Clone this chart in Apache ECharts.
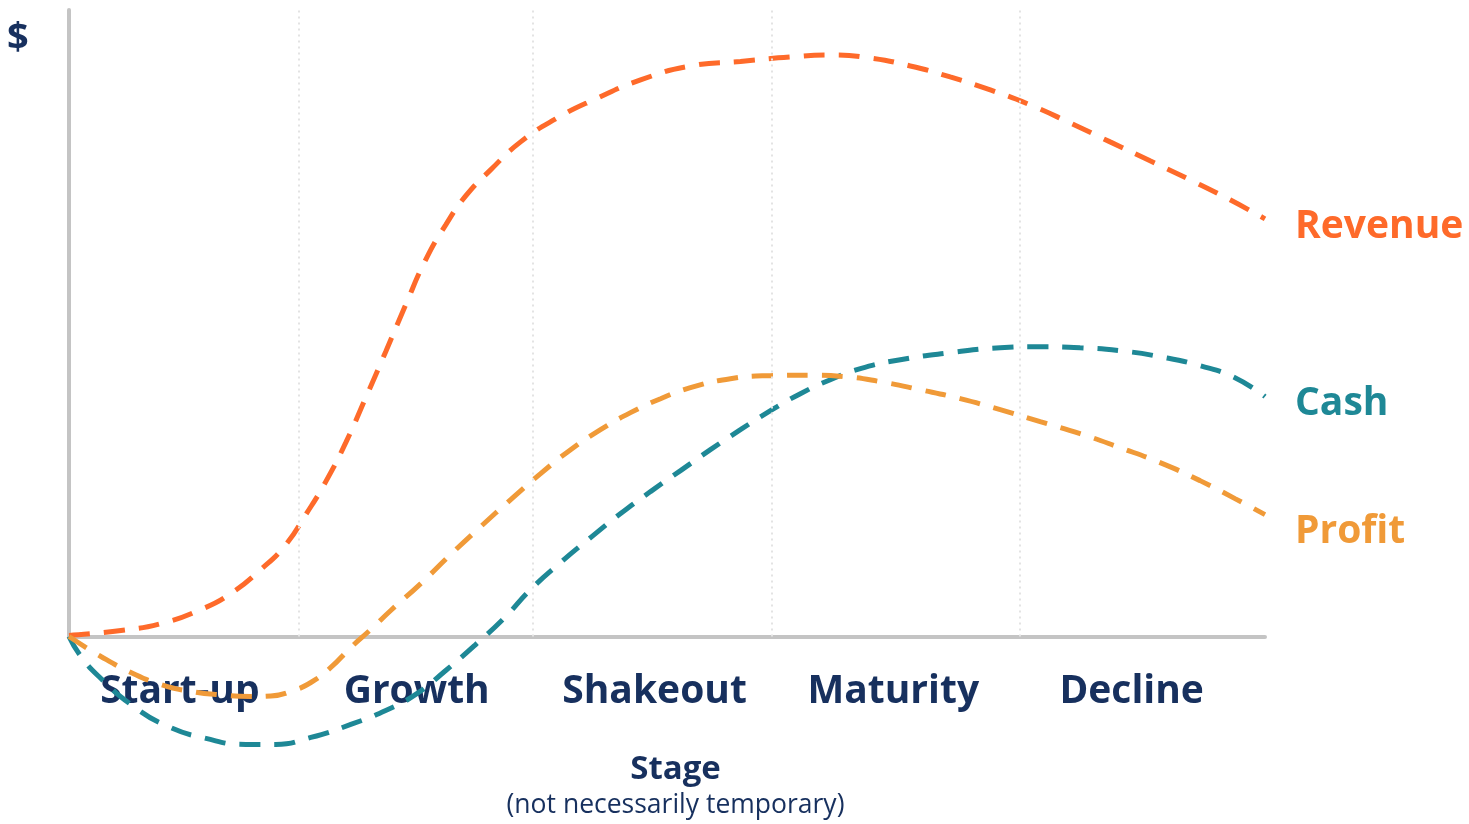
<!DOCTYPE html>
<html>
  <head>
  <meta charset="utf-8">
    <script type="text/javascript" src="https://cdn.jsdelivr.net/npm/echarts@6/dist/echarts.min.js"></script>
  </head>
 <body style="margin:0;background:#fff">
     <div id="main" style="width:1469px;height:824px;"></div>
     <script type="text/javascript">
    // stage names and where they sit along the horizontal axis (0-100)
    var stageNames = ['Start-up', 'Growth', 'Shakeout', 'Maturity', 'Decline'];
    var stageCenters = [9.27, 29.07, 48.96, 68.92, 88.85];
    var stageBounds = [19.21, 38.76, 58.73, 79.53];

    // curves: [x, y]
    var revenue = [[0,0.16],[4.34,0.96],[7.69,2.07],[11.03,4.31],[13.53,6.86],[16.04,10.69],[18.13,14.67],
        [19.8,19.46],[21.47,24.72],[23.14,30.94],[24.81,38.12],[26.48,45.45],[28.15,52.95],[29.82,60.13],
        [31.5,65.71],[33.17,70.33],[35.25,74.48],[37.76,78.95],[40.69,82.62],[44.03,85.81],[47.79,88.84],
        [51.96,91.07],[56.14,91.79],[60.32,92.5],[63.66,92.82],[67.0,92.34],[70.34,91.07],[73.68,89.31],
        [77.03,87.24],[80.37,84.85],[83.71,81.98],[87.05,78.95],[90.39,75.92],[93.73,72.89],[97.08,69.7],
        [100,66.67]];
    var cash = [[0,0],[1.0,-3.19],[2.67,-6.7],[5.18,-10.85],[8.1,-14.2],[11.45,-16.27],[14.79,-17.22],
        [17.29,-17.22],[20.22,-16.11],[23.56,-14.04],[26.48,-11.8],[28.99,-9.25],[31.5,-5.42],[34.0,-1.28],
        [36.51,3.19],[38.6,7.5],[41.1,11.8],[43.61,15.79],[46.12,19.62],[48.62,23.13],[51.13,26.48],
        [53.63,29.82],[56.14,33.01],[58.65,36.04],[61.15,38.76],[63.66,40.99],[66.17,42.76],[69.51,44.18],
        [73.68,45.3],[77.86,46.09],[81.2,46.25],[84.54,46.09],[87.89,45.61],[91.23,44.66],[94.57,43.22],
        [97.49,41.31],[100,38.28]];
    var profit = [[0,0],[2.67,-3.19],[5.18,-5.74],[7.69,-7.66],[10.19,-8.77],[12.7,-9.33],[15.2,-9.57],
        [16.88,-9.49],[18.55,-8.77],[20.22,-7.34],[21.89,-4.94],[23.56,-1.75],[25.23,1.12],[26.9,4.15],
        [29.41,8.45],[31.91,13.08],[34.42,17.54],[36.93,21.85],[39.43,25.99],[41.94,29.82],[44.44,33.01],
        [46.95,35.73],[49.46,37.96],[51.96,39.71],[55.3,41.15],[58.65,41.63],[61.99,41.71],[64.91,41.47],
        [67.84,40.67],[71.18,39.39],[74.52,37.96],[77.86,36.2],[81.2,34.29],[84.54,32.38],[87.89,30.14],
        [91.23,27.75],[94.57,24.88],[97.49,22.01],[100,19.46]];

    var navy = '#17305e';
    var font = 'Open Sans';

    function curve(name, data, color, labelOffset) {
        return {
            name: name,
            type: 'line',
            data: data,
            smooth: true,
            showSymbol: false,
            clip: false,
            lineStyle: { color: color, width: 5, type: [21, 14] },
            endLabel: {
                show: true,
                formatter: '{a}',
                color: color,
                fontFamily: font,
                fontWeight: 'bold',
                fontSize: 39,
                distance: 30,
                offset: labelOffset
            }
        };
    }

    var myChart = echarts.init(document.getElementById('main'));
    var series = [
        curve('Revenue', revenue, '#fe6a2a', [0, 8]),
        curve('Cash', cash, '#1e8896', [0, 7]),
        curve('Profit', profit, '#f09a38', [0, 17])
    ];
    // dotted stage dividers
    series[0].markLine = {
        silent: true,
        symbol: 'none',
        label: { show: false },
        lineStyle: { color: '#e3e3e3', width: 2, type: [2, 4] },
        data: stageBounds.map(function (x) { return { xAxis: x }; })
    };

    var option = {
        animation: false,
        title: {
            text: '$',
            left: 2,
            top: 15,
            textStyle: { color: navy, fontFamily: font, fontWeight: 'bold', fontSize: 38 }
        },
        grid: { left: 69, right: 204, top: 10, bottom: 187 },
        xAxis: {
            type: 'value',
            min: 0,
            max: 100,
            name: '{a|Stage}\n{b|(not necessarily temporary)}',
            nameLocation: 'middle',
            nameGap: 114,
            nameTextStyle: {
                padding: [0, 0, 0, 17],
                rich: {
                    a: { fontFamily: font, fontWeight: 'bold', fontSize: 33, color: navy, lineHeight: 38, align: 'center' },
                    b: { fontFamily: font, fontSize: 26.5, color: navy, lineHeight: 34, align: 'center' }
                }
            },
            axisLine: { show: true, lineStyle: { color: '#c4c4c4', width: 4 } },
            axisTick: { show: false },
            splitLine: { show: false },
            axisLabel: {
                customValues: stageCenters,
                formatter: function (v) { return stageNames[stageCenters.indexOf(v)]; },
                color: navy,
                fontFamily: font,
                fontWeight: 'bold',
                fontSize: 39,
                margin: 36
            }
        },
        yAxis: {
            type: 'value',
            min: 0,
            max: 100,
            axisLine: { show: true, lineStyle: { color: '#c4c4c4', width: 4 } },
            axisTick: { show: false },
            axisLabel: { show: false },
            splitLine: { show: false }
        },
        series: series
    };
    myChart.setOption(option);
    </script>
  </body>
</html>
